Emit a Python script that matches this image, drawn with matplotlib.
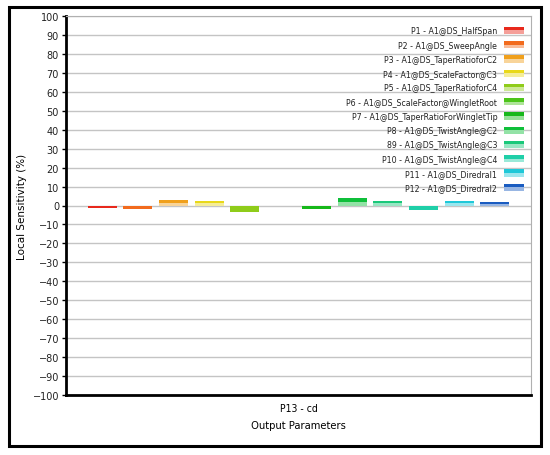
import matplotlib
matplotlib.use("Agg")
import matplotlib.pyplot as plt
from matplotlib.patches import Rectangle
from matplotlib.legend_handler import HandlerBase
from matplotlib.colors import to_rgb
from matplotlib import font_manager as fm
import numpy as np

labels = ["P1 - A1@DS_HalfSpan", "P2 - A1@DS_SweepAngle", "P3 - A1@DS_TaperRatioforC2",
          "P4 - A1@DS_ScaleFactor@C3", "P5 - A1@DS_TaperRatioforC4",
          "P6 - A1@DS_ScaleFactor@WingletRoot", "P7 - A1@DS_TaperRatioForWingletTip",
          "P8 - A1@DS_TwistAngle@C2", "89 - A1@DS_TwistAngle@C3", "P10 - A1@DS_TwistAngle@C4",
          "P11 - A1@DS_Diredral1", "P12 - A1@DS_Diredral2"]
values = [-1.2, -1.6, 3.0, 2.6, -3.5, -0.4, -2.1, 4.2, 2.5, -2.5, 2.5, 1.7]
colors = ["#e8291c", "#f26b1d", "#f0a01c", "#e8d81a", "#8fcc1a", "#4cc41a",
          "#16b81a", "#0fbf3a", "#1ac87a", "#1fcfa8", "#1fc8d8", "#1a5cc0"]
category = ["P13 - cd"]
yticks = list(range(-100, 101, 10))

cond = [f for f in fm.fontManager.ttflist
        if f.name == "DejaVu Sans" and "ondensed" in f.fname
        and f.weight in (400, "normal", "regular") and f.style == "normal"
        and "Bold" not in f.fname and "Oblique" not in f.fname]
if cond:
    narrow = fm.FontProperties(fname=cond[0].fname)
else:
    narrow = fm.FontProperties(family="DejaVu Sans")

def np_(size):
    p = narrow.copy()
    p.set_size(size)
    return p

def lighten(c, f=0.55):
    r = np.array(to_rgb(c))
    return tuple(r + (1 - r) * f)

fig = plt.figure(figsize=(5.5, 4.56), dpi=100)
ax = fig.add_axes([66/550, 1-396/456, (531-66)/550, (396-17)/456])

n = len(values)
step = 0.0768
width = 0.0624
for i, (v, c) in enumerate(zip(values, colors)):
    x = (i - (n - 1) / 2) * step
    ax.bar(x, v, width=width, color=c, zorder=3)
    if v > 0:
        ax.bar(x, v * 0.5, width=width, color=lighten(c), zorder=4)

ax.set_ylim(-100, 100)
ax.set_xlim(-0.5, 0.5)
ax.set_yticks(yticks)
ax.set_yticklabels([str(t).replace("-", "\u2212") for t in yticks], fontsize=7, color="#222222")
ax.set_xticks([0])
ax.set_xticklabels(category, fontproperties=np_(7.5))
ax.tick_params(axis="x", length=0, pad=6)
ax.tick_params(axis="y", length=3, width=1, pad=2)
ax.yaxis.grid(True, color="#c4c4c4", linewidth=1)
ax.set_axisbelow(True)
for s in ["left", "bottom"]:
    ax.spines[s].set_linewidth(2)
    ax.spines[s].set_color("black")
for s in ["top", "right"]:
    ax.spines[s].set_linewidth(0.8)
    ax.spines[s].set_color("#b0b0b0")

ax.set_ylabel("Local Sensitivity (%)", fontsize=7.5, labelpad=4)
ax.set_xlabel("Output Parameters", fontproperties=np_(8), labelpad=5)

class TwoTone(HandlerBase):
    def __init__(self, color):
        super().__init__()
        self.color = color
    def create_artists(self, legend, orig, xd, yd, w, h, fontsize, trans):
        top = Rectangle((-xd, -yd + h * 0.5), w, h * 0.45, facecolor=self.color,
                        edgecolor="none", transform=trans)
        bot = Rectangle((-xd, -yd), w, h * 0.5, facecolor=lighten(self.color),
                        edgecolor="none", transform=trans)
        return [bot, top]

handles = [Rectangle((0, 0), 1, 1, color=c) for c in colors]
leg = ax.legend(handles, labels, loc="upper right", bbox_to_anchor=(1.0, 0.99),
                frameon=False, markerfirst=False, handlelength=2.35, handleheight=0.95,
                labelspacing=0.6, borderaxespad=0.35, handletextpad=0.75,
                prop=np_(6.3),
                handler_map={h: TwoTone(c) for h, c in zip(handles, colors)})
for t in leg.get_texts():
    t.set_color("#222222")
leg.set_zorder(5)

fig.patches.append(Rectangle((9/550, 1-447/456), (541-9)/550, (447-8)/456,
                             transform=fig.transFigure, fill=False,
                             edgecolor="black", linewidth=2.2))

fig.savefig("out.png", dpi=100)
